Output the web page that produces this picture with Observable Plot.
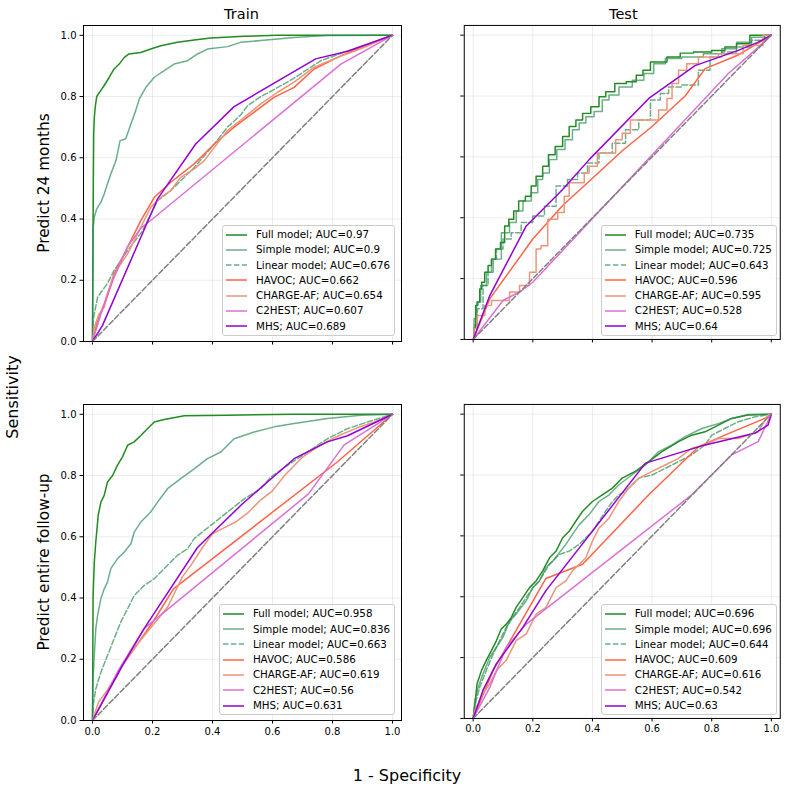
<!DOCTYPE html>
<html><head><meta charset="utf-8">
<script src="https://cdn.jsdelivr.net/npm/d3@7"></script>
<script src="https://cdn.jsdelivr.net/npm/@observablehq/plot@0.6"></script>
<style>
body{margin:0;background:#fff;font-family:"DejaVu Sans",sans-serif;}
#fig{position:relative;width:790px;height:794px;overflow:hidden;background:#fff;}
.lbl{position:absolute;color:#000;white-space:nowrap;line-height:1;}
.legend{position:absolute;background:rgba(255,255,255,0.8);border:1px solid #cccccc;border-radius:3px;padding:1px 4px 1px 3px;font-size:10.3px;line-height:15.3px;color:#000;}
.legend .row{display:flex;align-items:center;height:15.3px;white-space:nowrap;}
.legend svg{margin-right:9px;flex:none;}
.panel{position:absolute;}
</style></head><body><div id="fig"></div><script>
// ---------- data ----------
const models = ["Full model", "Simple model", "Linear model", "HAVOC", "CHARGE-AF", "C2HEST", "MHS"];
const colTitles = ["Train", "Test"];
const rowTitles = ["Predict 24 months", "Predict entire follow-up"];
const ticks = [0, 0.2, 0.4, 0.6, 0.8, 1.0];
const diagonal = [[0, 0], [1, 1]];

const aucTrain24 = [0.97, 0.9, 0.676, 0.662, 0.654, 0.607, 0.689];
const aucTest24 = [0.735, 0.725, 0.643, 0.596, 0.595, 0.528, 0.64];
const aucTrainAll = [0.958, 0.836, 0.663, 0.586, 0.619, 0.56, 0.631];
const aucTestAll = [0.696, 0.696, 0.644, 0.609, 0.616, 0.542, 0.63];

// Train, 24 months
const tr24_full = [[0,0],[0.002,0.38],[0.003,0.55],[0.004,0.68],[0.006,0.73],[0.009,0.765],[0.014,0.80],[0.028,0.82],[0.039,0.836],[0.056,0.863],[0.072,0.89],[0.089,0.906],[0.106,0.928],[0.122,0.939],[0.161,0.944],[0.194,0.955],[0.228,0.966],[0.283,0.977],[0.339,0.985],[0.394,0.991],[0.506,0.997],[0.617,1],[1,1]];
const tr24_simple = [[0,0],[0.002,0.37],[0.006,0.406],[0.014,0.433],[0.028,0.455],[0.039,0.482],[0.05,0.515],[0.061,0.547],[0.078,0.59],[0.092,0.656],[0.111,0.662],[0.128,0.71],[0.144,0.754],[0.156,0.792],[0.178,0.83],[0.206,0.863],[0.239,0.885],[0.272,0.906],[0.317,0.917],[0.35,0.939],[0.383,0.955],[0.45,0.963],[0.494,0.977],[0.561,0.983],[0.672,0.993],[0.783,0.999],[1,1]];
const tr24_linear = [[0,0],[0.002,0.07],[0.017,0.145],[0.05,0.19],[0.072,0.232],[0.117,0.297],[0.167,0.362],[0.217,0.46],[0.261,0.493],[0.339,0.568],[0.406,0.645],[0.45,0.70],[0.494,0.74],[0.517,0.77],[0.561,0.80],[0.6,0.82],[0.672,0.86],[0.761,0.917],[0.839,0.945],[0.917,0.97],[1,1]];
const tr24_havoc = [[0,0],[0.017,0.069],[0.039,0.123],[0.072,0.221],[0.117,0.308],[0.161,0.395],[0.206,0.471],[0.261,0.52],[0.339,0.58],[0.406,0.645],[0.472,0.70],[0.539,0.749],[0.606,0.798],[0.672,0.83],[0.739,0.89],[0.817,0.928],[0.894,0.961],[1,1]];
const tr24_charge = [[0,0],[0.006,0.047],[0.022,0.09],[0.039,0.112],[0.061,0.188],[0.083,0.237],[0.117,0.286],[0.161,0.373],[0.194,0.438],[0.228,0.471],[0.261,0.493],[0.294,0.536],[0.339,0.564],[0.372,0.59],[0.406,0.634],[0.45,0.689],[0.506,0.732],[0.561,0.776],[0.617,0.814],[0.672,0.847],[0.739,0.896],[0.817,0.928],[0.894,0.956],[1,1]];
const tr24_c2hest = [[0,0],[0.028,0.09],[0.072,0.21],[0.117,0.31],[0.161,0.37],[0.2,0.40],[0.828,0.906],[1,1]];
const tr24_mhs = [[0,0],[0.033,0.052],[0.217,0.466],[0.344,0.645],[0.472,0.767],[0.744,0.923],[0.85,0.948],[1,1]];

// Test, 24 months
const te24_full = [[0,0],[0.006,0.036],[0.011,0.112],[0.02,0.123],[0.024,0.166],[0.033,0.188],[0.044,0.221],[0.056,0.243],[0.067,0.264],[0.083,0.297],[0.1,0.319],[0.111,0.373],[0.128,0.395],[0.144,0.422],[0.161,0.455],[0.189,0.471],[0.2,0.504],[0.222,0.536],[0.244,0.569],[0.261,0.607],[0.289,0.634],[0.311,0.667],[0.333,0.70],[0.356,0.721],[0.378,0.743],[0.411,0.765],[0.433,0.798],[0.456,0.814],[0.494,0.841],[0.533,0.847],[0.561,0.868],[0.578,0.885],[0.611,0.912],[0.689,0.928],[0.70,0.941],[0.778,0.945],[0.822,0.95],[0.867,0.961],[0.90,0.972],[0.956,1],[1,1]];
const te24_simple = [[0,0],[0.006,0.069],[0.017,0.123],[0.033,0.177],[0.056,0.221],[0.078,0.264],[0.111,0.351],[0.133,0.384],[0.156,0.422],[0.178,0.455],[0.211,0.482],[0.222,0.526],[0.244,0.547],[0.267,0.591],[0.294,0.624],[0.322,0.656],[0.344,0.689],[0.367,0.711],[0.389,0.732],[0.422,0.749],[0.444,0.787],[0.467,0.803],[0.511,0.83],[0.556,0.852],[0.589,0.874],[0.622,0.906],[0.667,0.923],[0.733,0.928],[0.811,0.939],[0.856,0.955],[0.911,0.977],[0.956,0.993],[1,1]];
const te24_linear = [[0,0],[0.006,0.047],[0.022,0.101],[0.044,0.177],[0.056,0.221],[0.067,0.264],[0.089,0.297],[0.111,0.33],[0.144,0.351],[0.178,0.384],[0.222,0.406],[0.256,0.438],[0.30,0.504],[0.333,0.526],[0.367,0.547],[0.40,0.58],[0.444,0.613],[0.489,0.645],[0.533,0.689],[0.578,0.721],[0.611,0.787],[0.644,0.808],[0.667,0.83],[0.733,0.836],[0.778,0.885],[0.811,0.928],[0.856,0.945],[0.911,0.961],[0.956,0.983],[1,1]];
const te24_havoc = [[0,0],[0.056,0.134],[0.2,0.33],[0.3,0.44],[0.4,0.53],[0.5,0.62],[0.6,0.70],[0.711,0.80],[0.778,0.89],[0.889,0.935],[1,1]];
const te24_charge = [[0,0],[0.006,0.036],[0.022,0.079],[0.056,0.112],[0.067,0.128],[0.111,0.128],[0.133,0.156],[0.178,0.177],[0.2,0.221],[0.222,0.297],[0.233,0.308],[0.267,0.395],[0.30,0.417],[0.311,0.471],[0.333,0.515],[0.367,0.515],[0.378,0.547],[0.40,0.569],[0.433,0.613],[0.467,0.613],[0.489,0.656],[0.511,0.678],[0.544,0.721],[0.60,0.721],[0.644,0.754],[0.656,0.792],[0.678,0.841],[0.70,0.885],[0.733,0.906],[0.778,0.928],[0.867,0.939],[0.944,0.966],[1,1]];
const te24_c2hest = [[0,0],[0.1,0.128],[0.156,0.156],[0.2,0.188],[0.856,0.874],[0.956,0.96],[1,1]];
const te24_mhs = [[0,0],[0.056,0.145],[0.178,0.373],[0.3,0.493],[0.389,0.591],[0.589,0.792],[0.744,0.90],[0.811,0.923],[0.889,0.95],[0.956,0.977],[1,1]];

// Train, entire follow-up
const trAll_full = [[0,0],[0.001,0.2],[0.002,0.408],[0.006,0.517],[0.011,0.583],[0.019,0.67],[0.028,0.713],[0.039,0.735],[0.05,0.779],[0.067,0.80],[0.083,0.833],[0.10,0.861],[0.117,0.899],[0.139,0.91],[0.161,0.931],[0.183,0.953],[0.206,0.975],[0.239,0.983],[0.306,0.995],[0.45,0.997],[0.672,1],[1,1]];
const trAll_simple = [[0,0],[0.002,0.136],[0.006,0.212],[0.011,0.30],[0.017,0.343],[0.028,0.398],[0.039,0.43],[0.05,0.452],[0.061,0.496],[0.083,0.528],[0.106,0.55],[0.128,0.577],[0.139,0.615],[0.161,0.648],[0.194,0.681],[0.217,0.713],[0.25,0.757],[0.294,0.79],[0.339,0.822],[0.383,0.855],[0.428,0.877],[0.472,0.92],[0.539,0.942],[0.606,0.959],[0.672,0.97],[0.783,0.986],[0.894,0.997],[1,1]];
const trAll_linear = [[0,0],[0.002,0.049],[0.011,0.103],[0.028,0.158],[0.05,0.212],[0.072,0.267],[0.094,0.321],[0.117,0.365],[0.139,0.408],[0.172,0.441],[0.206,0.463],[0.25,0.507],[0.283,0.539],[0.317,0.561],[0.339,0.594],[0.394,0.637],[0.45,0.681],[0.506,0.724],[0.561,0.757],[0.594,0.795],[0.65,0.833],[0.717,0.877],[0.783,0.92],[0.85,0.953],[0.917,0.975],[1,1]];
const trAll_havoc = [[0,0],[0.05,0.09],[0.1,0.18],[0.2,0.32],[0.27,0.43],[0.817,0.845],[1,1]];
const trAll_charge = [[0,0],[0.02,0.06],[0.05,0.1],[0.1,0.18],[0.15,0.25],[0.2,0.31],[0.25,0.37],[0.28,0.43],[0.3,0.47],[0.33,0.51],[0.37,0.57],[0.4,0.61],[0.44,0.63],[0.48,0.65],[0.52,0.68],[0.56,0.72],[0.6,0.75],[0.64,0.80],[0.7,0.86],[0.76,0.90],[0.82,0.93],[0.88,0.955],[0.94,0.975],[1,1]];
const trAll_c2hest = [[0,0],[0.09,0.17],[0.172,0.3],[0.72,0.74],[0.839,0.9],[1,1]];
const trAll_mhs = [[0,0],[0.1,0.18],[0.172,0.3],[0.35,0.565],[0.5,0.708],[0.672,0.855],[0.783,0.91],[0.85,0.93],[1,1]];

// Test, entire follow-up
const teAll_full = [[0,0],[0.006,0.049],[0.013,0.114],[0.028,0.158],[0.044,0.191],[0.061,0.223],[0.078,0.256],[0.094,0.294],[0.111,0.31],[0.128,0.332],[0.144,0.365],[0.167,0.398],[0.189,0.43],[0.211,0.452],[0.233,0.485],[0.256,0.528],[0.278,0.55],[0.30,0.594],[0.322,0.615],[0.344,0.648],[0.367,0.681],[0.40,0.713],[0.433,0.735],[0.467,0.757],[0.50,0.79],[0.544,0.812],[0.589,0.844],[0.633,0.877],[0.689,0.91],[0.733,0.931],[0.778,0.942],[0.822,0.964],[0.867,0.986],[0.922,0.997],[1,1]];
const teAll_simple = [[0,0],[0.006,0.06],[0.017,0.103],[0.033,0.147],[0.056,0.202],[0.078,0.234],[0.10,0.267],[0.122,0.321],[0.144,0.343],[0.178,0.387],[0.20,0.43],[0.222,0.452],[0.244,0.496],[0.267,0.517],[0.289,0.545],[0.311,0.572],[0.333,0.605],[0.356,0.637],[0.389,0.67],[0.422,0.713],[0.456,0.735],[0.489,0.768],[0.533,0.801],[0.578,0.833],[0.622,0.877],[0.667,0.899],[0.711,0.926],[0.767,0.953],[0.822,0.969],[0.867,0.986],[0.922,0.999],[1,1]];
const teAll_linear = [[0,0],[0.006,0.044],[0.022,0.103],[0.044,0.158],[0.067,0.212],[0.089,0.256],[0.111,0.30],[0.133,0.332],[0.156,0.365],[0.178,0.398],[0.20,0.43],[0.222,0.452],[0.256,0.507],[0.289,0.539],[0.322,0.55],[0.356,0.572],[0.378,0.594],[0.40,0.615],[0.422,0.648],[0.444,0.681],[0.467,0.713],[0.489,0.735],[0.511,0.746],[0.556,0.79],[0.60,0.80],[0.644,0.822],[0.689,0.844],[0.733,0.866],[0.778,0.899],[0.80,0.931],[0.844,0.953],[0.889,0.975],[0.944,0.991],[1,1]];
const teAll_havoc = [[0,0],[0.067,0.158],[0.156,0.31],[0.244,0.46],[0.367,0.507],[0.589,0.735],[0.756,0.893],[0.844,0.931],[0.978,0.986],[1,1]];
const teAll_charge = [[0,0],[0.006,0.027],[0.033,0.082],[0.056,0.114],[0.078,0.158],[0.111,0.191],[0.144,0.256],[0.178,0.278],[0.211,0.343],[0.244,0.365],[0.278,0.43],[0.311,0.452],[0.333,0.485],[0.378,0.528],[0.40,0.583],[0.422,0.626],[0.456,0.659],[0.489,0.714],[0.522,0.757],[0.556,0.79],[0.60,0.812],[0.644,0.833],[0.689,0.855],[0.733,0.888],[0.778,0.899],[0.822,0.92],[0.889,0.92],[0.956,0.942],[0.989,0.997],[1,1]];
const teAll_c2hest = [[0,0],[0.056,0.103],[0.111,0.234],[0.178,0.31],[0.733,0.735],[0.867,0.866],[0.956,0.91],[1,1]];
const teAll_mhs = [[0,0],[0.033,0.093],[0.078,0.18],[0.167,0.30],[0.244,0.42],[0.578,0.839],[0.778,0.899],[0.944,0.937],[0.989,0.964],[1,1]];

// ---------- styles & layout ----------
const lineStyles = [
  {stroke: "forestgreen", strokeOpacity: 1},
  {stroke: "seagreen", strokeOpacity: 0.7},
  {stroke: "seagreen", strokeOpacity: 0.7, strokeDasharray: "5.5,2.4"},
  {stroke: "tomato", strokeOpacity: 1},
  {stroke: "darksalmon", strokeOpacity: 1},
  {stroke: "orchid", strokeOpacity: 1},
  {stroke: "darkviolet", strokeOpacity: 1}
];
const stepModels = [0, 1, 2, 4];
const FW = 318, FH = 316;
const ML = 40, MR = 10, MT = 10, MB = 30;

const panels = [
  {curves: [tr24_full, tr24_simple, tr24_linear, tr24_havoc, tr24_charge, tr24_c2hest, tr24_mhs], auc: aucTrain24, left: 82.5, top: 25, xLab: false, yLab: true, step: false},
  {curves: [te24_full, te24_simple, te24_linear, te24_havoc, te24_charge, te24_c2hest, te24_mhs], auc: aucTest24, left: 464.3, top: 25, xLab: false, yLab: false, step: true},
  {curves: [trAll_full, trAll_simple, trAll_linear, trAll_havoc, trAll_charge, trAll_c2hest, trAll_mhs], auc: aucTrainAll, left: 82.5, top: 404.3, xLab: true, yLab: true, step: false},
  {curves: [teAll_full, teAll_simple, teAll_linear, teAll_havoc, teAll_charge, teAll_c2hest, teAll_mhs], auc: aucTestAll, left: 464.3, top: 404.3, xLab: true, yLab: false, step: false}
];

const fig = document.getElementById("fig");
const fmt = d3.format(".1f");

for (const p of panels) {
  const lineMarks = p.curves.map((c, i) => Plot.line(c, {
    ...lineStyles[i],
    strokeWidth: 1.5,
    curve: (p.step && stepModels.includes(i)) ? "step" : "linear"
  }));
  const svg = Plot.plot({
    width: FW + ML + MR, height: FH + MT + MB,
    marginLeft: ML, marginRight: MR, marginTop: MT, marginBottom: MB,
    x: {domain: [-0.03, 1.03]},
    y: {domain: [0, 1.032]},
    style: {background: "transparent", fontFamily: "DejaVu Sans", fontSize: "10px", color: "black", overflow: "visible"},
    marks: [
      Plot.gridX(ticks, {stroke: "#b0b0b0", strokeOpacity: 0.3, strokeWidth: 0.8}),
      Plot.gridY(ticks, {stroke: "#b0b0b0", strokeOpacity: 0.3, strokeWidth: 0.8}),
      Plot.axisX(ticks, {tickSize: 3.5, tickPadding: 3.5, tickFormat: p.xLab ? fmt : () => "", label: null, fontSize: 10}),
      Plot.axisY(ticks, {tickSize: 3.5, tickPadding: 3.5, tickFormat: p.yLab ? fmt : () => "", label: null, fontSize: 10}),
      ...lineMarks,
      Plot.line(diagonal, {stroke: "gray", strokeWidth: 1.5, strokeDasharray: "5.5,2.4"}),
      Plot.frame({stroke: "black", strokeWidth: 1})
    ]
  });
  const wrap = document.createElement("div");
  wrap.className = "panel";
  wrap.style.left = (p.left - ML) + "px";
  wrap.style.top = (p.top - MT) + "px";
  wrap.appendChild(svg);
  fig.appendChild(wrap);

  // legend
  const lg = document.createElement("div");
  lg.className = "legend";
  lg.style.right = (790 - (p.left + FW - 5.5)) + "px";
  lg.style.bottom = (794 - (p.top + FH - 5)) + "px";
  models.forEach((m, i) => {
    const st = lineStyles[i];
    const row = document.createElement("div");
    row.className = "row";
    row.innerHTML = `<svg width="21" height="10"><line x1="0" x2="21" y1="5" y2="5" stroke="${st.stroke}" stroke-opacity="${st.strokeOpacity}" stroke-width="1.5" ${st.strokeDasharray ? `stroke-dasharray="${st.strokeDasharray}"` : ""}/></svg><span>${m}; AUC=${p.auc[i]}</span>`;
    lg.appendChild(row);
  });
  fig.appendChild(lg);
}

function label(text, x, y, size, rotate) {
  const d = document.createElement("div");
  d.className = "lbl";
  d.textContent = text;
  d.style.left = x + "px";
  d.style.top = y + "px";
  d.style.fontSize = size + "px";
  d.style.transform = "translate(-50%,-50%)" + (rotate ? " rotate(-90deg)" : "");
  fig.appendChild(d);
}
label(colTitles[0], 82.5 + FW / 2, 13.5, 14.5);
label(colTitles[1], 464.3 + FW / 2, 13.5, 14.5);
label(rowTitles[0], 45, 25 + FH / 2, 15.3, true);
label(rowTitles[1], 45, 404.3 + FH / 2, 15.3, true);
label("Sensitivity", 13, 397, 16, true);
label("1 - Specificity", 407, 776, 16);
</script></body></html>
